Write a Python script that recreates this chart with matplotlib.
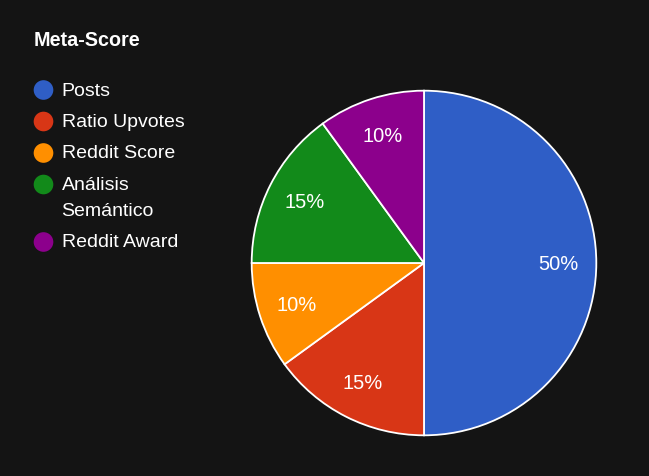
import matplotlib
matplotlib.use("Agg")
import matplotlib.pyplot as plt

title = "Meta-Score"
categories = ["Posts", "Ratio Upvotes", "Reddit Score", "Análisis\nSemántico", "Reddit Award"]
values = [50, 15, 10, 15, 10]
colors = ["#2f5ec6", "#d83616", "#ff8f00", "#128a1a", "#8c008c"]

BG = "#141414"
W, H = 649, 477
fig = plt.figure(figsize=(W / 100, H / 100), dpi=100, facecolor=BG)
plt.rcParams['font.family'] = ['Liberation Sans', 'DejaVu Sans']

cx, cy, r = 424, 264, 173
ax = fig.add_axes([(cx - r) / W, (H - cy - r) / H, 2 * r / W, 2 * r / H])
ax.set_facecolor(BG)
wedges, texts, autotexts = ax.pie(
    values, colors=colors, startangle=90, counterclock=False,
    autopct=lambda p: f"{p:.0f}%", pctdistance=0.78,
    wedgeprops=dict(edgecolor="white", linewidth=1.3),
    textprops=dict(color="white", fontsize=14.5),
)
ax.set_xlim(-1.004, 1.004)
ax.set_ylim(-1.004, 1.004)
ax.set_aspect("equal")
ax.axis("off")

# Title
fig.text(34 / W, 1 - 40 / H, title, color="white", fontsize=14.2, fontweight="bold",
         ha="left", va="center")

# Legend
lax = fig.add_axes([0, 0, 1, 1], facecolor="none")
lax.set_xlim(0, W)
lax.set_ylim(H, 0)
lax.axis("off")
y = 91
for cat, col in zip(categories, colors):
    lax.scatter([43.5], [y], s=200, color=col, edgecolors="none")
    lines = cat.split("\n")
    for i, ln in enumerate(lines):
        lax.text(61.5, y + i * 26, ln, color="white", fontsize=14, ha="left", va="center")
    y += 31.5 + (len(lines) - 1) * 26

fig.savefig("out.png", dpi=100, facecolor=BG)
